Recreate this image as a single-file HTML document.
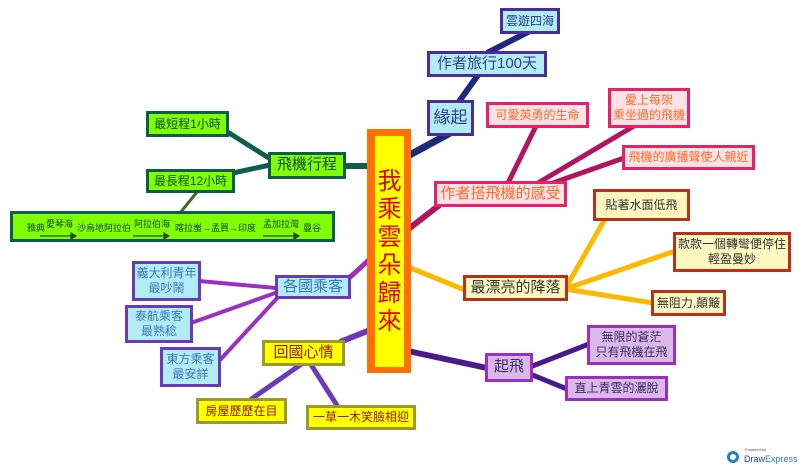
<!DOCTYPE html>
<html><head><meta charset="utf-8"><style>
body{margin:0;width:800px;height:468px;background:#fff;position:relative;overflow:hidden;font-family:"Liberation Sans","Noto Sans CJK TC",sans-serif;}
.b{position:absolute;box-sizing:border-box;display:flex;align-items:center;justify-content:center;text-align:center;line-height:1.25;white-space:nowrap;}
.bl{background:#b3ecf5;border:3px solid #4a2c9a;color:#2b3f8a;}
.pk{background:#fde3e6;border:3px solid #e8206a;color:#ff6a2a;}
.yl{background:#fff7c0;border:3px solid #b8321a;color:#333;}
.pu{background:#dcb8e8;border:3px solid #9b30c0;color:#3a2a6a;}
.gr{background:#7fff00;border:3px solid #0e5d4d;color:#1a4a3a;}
.lb{background:#b3ecf5;border:3px solid #6a3ab8;color:#3a7ab8;}
.ye{background:#ffff00;border:3px solid #9a9a30;color:#8a1a1a;}
.s{position:absolute;font-size:9px;line-height:11px;color:#1a4a3a;white-space:nowrap;}
</style></head><body>
<svg width="800" height="468" style="position:absolute;left:0;top:0">
<g stroke-linecap="butt" fill="none">
<line x1="406" y1="157" x2="452" y2="132" stroke="#1e2a7a" stroke-width="7"/>
<line x1="458" y1="103" x2="478" y2="75" stroke="#1e2a7a" stroke-width="6"/>
<line x1="487" y1="53" x2="530" y2="31" stroke="#1e2a7a" stroke-width="6"/>
<line x1="406" y1="231" x2="442" y2="203" stroke="#b0155f" stroke-width="6"/>
<line x1="508" y1="183" x2="536" y2="126" stroke="#b0155f" stroke-width="5"/>
<line x1="538" y1="183" x2="634" y2="126" stroke="#b0155f" stroke-width="5"/>
<line x1="550" y1="184" x2="624" y2="158" stroke="#b0155f" stroke-width="5"/>
<line x1="408" y1="267" x2="465" y2="290" stroke="#ffb800" stroke-width="5"/>
<line x1="565" y1="289" x2="605" y2="219" stroke="#ffb800" stroke-width="5"/>
<line x1="565" y1="289" x2="675" y2="251" stroke="#ffb800" stroke-width="5"/>
<line x1="565" y1="289" x2="653" y2="303" stroke="#ffb800" stroke-width="5"/>
<line x1="408" y1="351" x2="487" y2="368" stroke="#4a1a8a" stroke-width="6"/>
<line x1="530" y1="367" x2="589" y2="344" stroke="#4a1a8a" stroke-width="5"/>
<line x1="530" y1="374" x2="567" y2="389" stroke="#4a1a8a" stroke-width="5"/>
<line x1="344" y1="166" x2="369" y2="166" stroke="#0e5d4d" stroke-width="6"/>
<line x1="226" y1="131" x2="272" y2="160" stroke="#0e5d4d" stroke-width="5"/>
<line x1="233" y1="173" x2="270" y2="165" stroke="#0e5d4d" stroke-width="5"/>
<line x1="197" y1="192" x2="180" y2="213" stroke="#4a6a20" stroke-width="3"/>
<line x1="371" y1="258" x2="348" y2="279" stroke="#9b30c0" stroke-width="5"/>
<line x1="199" y1="281" x2="276" y2="288" stroke="#9b30c0" stroke-width="4"/>
<line x1="191" y1="323" x2="278" y2="292" stroke="#9b30c0" stroke-width="4"/>
<line x1="220" y1="360" x2="280" y2="295" stroke="#9b30c0" stroke-width="4"/>
<line x1="370" y1="330" x2="340" y2="342" stroke="#6a3ab8" stroke-width="6"/>
<line x1="303" y1="363" x2="250" y2="400" stroke="#6a3ab8" stroke-width="5"/>
<line x1="310" y1="363" x2="338" y2="407" stroke="#6a3ab8" stroke-width="5"/>
</g>
<circle cx="733" cy="457" r="6" fill="#2a7fc0"/><circle cx="733" cy="457" r="3" fill="#fff"/>
<text x="745" y="451" font-size="4" fill="#555" font-family="Liberation Sans">Powered by</text>
<text x="744" y="462" font-size="9" fill="#1a4a7a" font-family="Liberation Sans">Draw<tspan fill="#2a7fc0">Express</tspan></text>
</svg>
<div class="b" style="left:367px;top:129px;width:44px;height:244px;background:#ff7000;"></div>
<div class="b" style="left:375px;top:136px;width:29px;height:231px;background:#ffff00;color:#e00000;font-size:24px;white-space:normal;line-height:28px;">我<br>乘<br>雲<br>朵<br>歸<br>來</div>
<div class="b bl" style="left:500px;top:8px;width:60px;height:26px;font-size:12px;">雲遊四海</div>
<div class="b bl" style="left:427px;top:51px;width:120px;height:26px;font-size:15px;">作者旅行100天</div>
<div class="b bl" style="left:427px;top:100px;width:47px;height:36px;font-size:17px;">緣起</div>
<div class="b pk" style="left:434px;top:181px;width:133px;height:26px;font-size:15px;">作者搭飛機的感受</div>
<div class="b pk" style="left:486px;top:102px;width:103px;height:26px;font-size:12px;">可愛英勇的生命</div>
<div class="b pk" style="left:608px;top:88px;width:82px;height:40px;font-size:12px;">愛上每架<br>乘坐過的飛機</div>
<div class="b pk" style="left:622px;top:145px;width:133px;height:25px;font-size:12px;">飛機的廣播聲使人親近</div>
<div class="b yl" style="left:463px;top:275px;width:105px;height:26px;font-size:15px;">最漂亮的降落</div>
<div class="b yl" style="left:593px;top:189px;width:97px;height:32px;font-size:12px;">貼著水面低飛</div>
<div class="b yl" style="left:673px;top:232px;width:118px;height:40px;font-size:12px;">款款一個轉彎便停住<br>輕盈曼妙</div>
<div class="b yl" style="left:651px;top:290px;width:75px;height:26px;font-size:12px;">無阻力,顛簸</div>
<div class="b pu" style="left:485px;top:353px;width:48px;height:29px;font-size:15px;">起飛</div>
<div class="b pu" style="left:587px;top:325px;width:89px;height:40px;font-size:12px;">無限的蒼茫<br>只有飛機在飛</div>
<div class="b pu" style="left:565px;top:376px;width:103px;height:25px;font-size:12px;">直上青雲的灑脫</div>
<div class="b gr" style="left:268px;top:152px;width:78px;height:27px;font-size:15px;">飛機行程</div>
<div class="b gr" style="left:146px;top:111px;width:83px;height:26px;font-size:12px;">最短程1小時</div>
<div class="b gr" style="left:146px;top:169px;width:89px;height:24px;font-size:12px;">最長程12小時</div>
<div class="b gr" style="left:10px;top:211px;width:325px;height:31px;"></div>
<svg width="800" height="468" style="position:absolute;left:0;top:0">
<g stroke="#2a4a1a" stroke-width="1.2" fill="#2a4a1a">
<line x1="40" y1="236" x2="74" y2="236"/><path d="M71 233 L76 236 L71 239Z"/>
<line x1="133" y1="236" x2="167" y2="236"/><path d="M164 233 L169 236 L164 239Z"/>
<line x1="263" y1="236" x2="297" y2="236"/><path d="M294 233 L299 236 L294 239Z"/>
</g></svg>
<span class="s" style="left:27px;top:223px;">雅典</span>
<span class="s" style="left:46px;top:219px;">愛琴海</span>
<span class="s" style="left:77px;top:223px;">沙烏地阿拉伯</span>
<span class="s" style="left:134px;top:219px;">阿拉伯海</span>
<span class="s" style="left:175px;top:223px;">喀拉蚩→孟買→印度</span>
<span class="s" style="left:263px;top:219px;">孟加拉灣</span>
<span class="s" style="left:303px;top:223px;">曼谷</span>
<div class="b lb" style="left:275px;top:275px;width:76px;height:24px;font-size:15px;">各國乘客</div>
<div class="b lb" style="left:132px;top:261px;width:69px;height:40px;font-size:12px;">義大利青年<br>最吵鬧</div>
<div class="b lb" style="left:125px;top:305px;width:68px;height:38px;font-size:12px;">泰航乘客<br>最熟稔</div>
<div class="b lb" style="left:160px;top:347px;width:61px;height:40px;font-size:12px;">東方乘客<br>最安詳</div>
<div class="b ye" style="left:262px;top:340px;width:83px;height:26px;font-size:15px;">回國心情</div>
<div class="b ye" style="left:196px;top:398px;width:91px;height:26px;font-size:12px;">房屋歷歷在目</div>
<div class="b ye" style="left:306px;top:405px;width:110px;height:25px;font-size:12px;">一草一木笑臉相迎</div>
</body></html>
